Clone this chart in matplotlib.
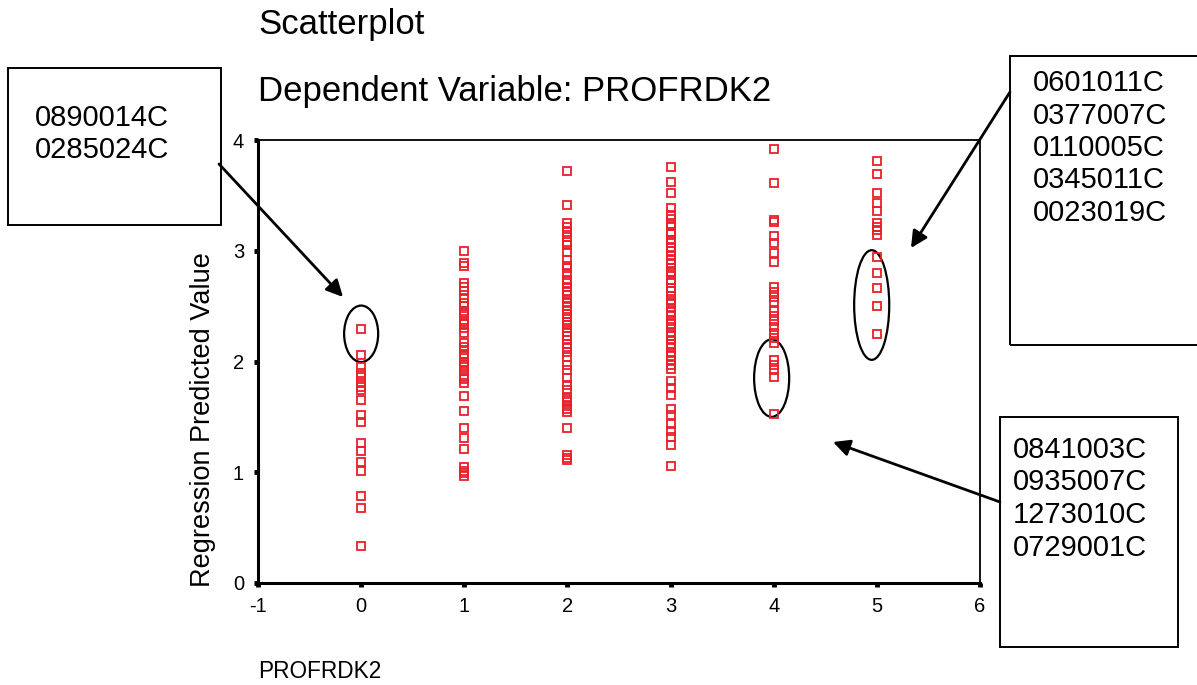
import matplotlib.pyplot as plt
from matplotlib.patches import Ellipse, Rectangle

plt.rcParams['font.family'] = ['Liberation Sans', 'DejaVu Sans']
plt.rcParams['axes.unicode_minus'] = False

# observed category of PROFRDK2 and the regression predicted value
profrdk2 = [0, 1, 2, 3, 4, 5]
predicted = {
    0: [2.29, 2.06, 1.95, 1.90, 1.86, 1.81, 1.77, 1.74, 1.65, 1.52, 1.45, 1.26,
        1.19, 1.09, 1.01, 0.79, 0.68, 0.33],
    1: [3.00, 2.89, 2.86, 2.71, 2.67, 2.64, 2.57, 2.53, 2.50, 2.46, 2.44, 2.41,
        2.36, 2.34, 2.30, 2.26, 2.17, 2.13, 2.10, 2.07, 2.05, 2.00, 1.97, 1.95,
        1.91, 1.86, 1.84, 1.81, 1.69, 1.55, 1.40, 1.31, 1.21, 1.05, 1.01, 0.99,
        0.97],
    2: [3.72, 3.41, 3.25, 3.21, 3.17, 3.12, 3.08, 3.05, 2.99, 2.92, 2.86, 2.84,
        2.80, 2.74, 2.71, 2.67, 2.63, 2.60, 2.56, 2.54, 2.50, 2.46, 2.43, 2.40,
        2.36, 2.33, 2.30, 2.27, 2.23, 2.19, 2.16, 2.13, 2.09, 2.04, 1.97, 1.92,
        1.85, 1.79, 1.74, 1.68, 1.65, 1.63, 1.60, 1.57, 1.54, 1.40, 1.16, 1.13,
        1.11],
    3: [3.76, 3.62, 3.52, 3.39, 3.32, 3.29, 3.24, 3.22, 3.17, 3.15, 3.10, 3.07,
        3.03, 3.00, 2.95, 2.92, 2.89, 2.84, 2.81, 2.79, 2.74, 2.71, 2.66, 2.64,
        2.59, 2.55, 2.53, 2.48, 2.45, 2.42, 2.37, 2.34, 2.31, 2.26, 2.23, 2.19,
        2.16, 2.13, 2.08, 2.05, 2.01, 1.97, 1.93, 1.82, 1.76, 1.70, 1.57, 1.52,
        1.44, 1.37, 1.32, 1.25, 1.06],
    4: [3.92, 3.61, 3.28, 3.26, 3.13, 3.07, 2.98, 2.90, 2.67, 2.63, 2.58, 2.54,
        2.46, 2.41, 2.37, 2.31, 2.26, 2.21, 2.17, 2.01, 1.97, 1.92, 1.86, 1.53],
    5: [3.81, 3.69, 3.52, 3.43, 3.36, 3.25, 3.21, 3.19, 3.14, 2.94, 2.80, 2.66,
        2.50, 2.25],
}

# flagged cases: (x, y centre, width, height) of the ring and the ids listed
groups = [
    ((0.0, 2.25, 0.33, 0.51), ['0890014C', '0285024C']),
    ((4.95, 2.51, 0.34, 0.99), ['0601011C', '0377007C', '0110005C', '0345011C', '0023019C']),
    ((3.98, 1.85, 0.34, 0.70), ['0841003C', '0935007C', '1273010C', '0729001C']),
]

W, H = 1197, 685
fig = plt.figure(figsize=(W / 100, H / 100), dpi=100)


def fx(x, y):
    # pixel position (from top-left) to figure fraction
    return x / W, 1 - y / H


ax = fig.add_axes([258 / W, 102 / H, 722 / W, 443 / H])
for cat in profrdk2:
    vals = predicted[cat]
    ax.plot([cat] * len(vals), vals, linestyle='none', marker='s',
            markersize=5.5, markerfacecolor='none', markeredgecolor='#e8202a',
            markeredgewidth=1.3)

ax.set_xlim(-1, 6)
ax.set_ylim(0, 4)
ax.set_xticks(range(-1, 7))
ax.set_yticks(range(0, 5))
ax.tick_params(length=3, width=3.5, labelsize=14.5, pad=7, direction='out')
for side in ['left', 'bottom']:
    ax.spines[side].set_linewidth(2.2)
for side in ['top', 'right']:
    ax.spines[side].set_linewidth(1.3)

# rings round the flagged points
for (cx, cy, w, h), ids in groups:
    ax.add_patch(Ellipse((cx, cy), w, h, fill=False, lw=1.6, ec='black'))

fig.text(*fx(258, 34), 'Scatterplot', fontsize=25, va='baseline')
fig.text(*fx(258, 101), 'Dependent Variable: PROFRDK2', fontsize=25, va='baseline')
fig.text(*fx(258, 678), 'PROFRDK2', fontsize=16.3, va='baseline')
fig.text(*fx(203, 420), 'Regression Predicted Value', fontsize=19.5,
         rotation=90, va='center', ha='center')

# boxes with case ids and arrows pointing at the rings
boxes = [(8, 68, 213, 157), (1010, 56, 230, 289), (1000, 417, 178, 230)]
text_pos = [(35, 118), (1033, 83), (1013, 450)]
arrows = [((219, 164), (343, 297)), ((1010, 92), (911, 248)), ((1000, 502), (833, 442))]
for (bx, by, bw, bh), (tx, ty), (start, end), (_, ids) in zip(boxes, text_pos, arrows, groups):
    x0, y0 = fx(bx, by + bh)
    fig.add_artist(Rectangle((x0, y0), bw / W, bh / H, transform=fig.transFigure,
                             fill=False, lw=1.4, ec='black', clip_on=False))
    for i, name in enumerate(ids):
        fig.text(*fx(tx, ty + i * 32.5), name, fontsize=21, va='center')
    ax.annotate('', xy=fx(*end), xycoords='figure fraction',
                xytext=fx(*start), textcoords='figure fraction',
                arrowprops=dict(arrowstyle='-|>', mutation_scale=25, lw=2,
                                color='black', shrinkA=0, shrinkB=0))

fig.savefig('out.png', dpi=100)
